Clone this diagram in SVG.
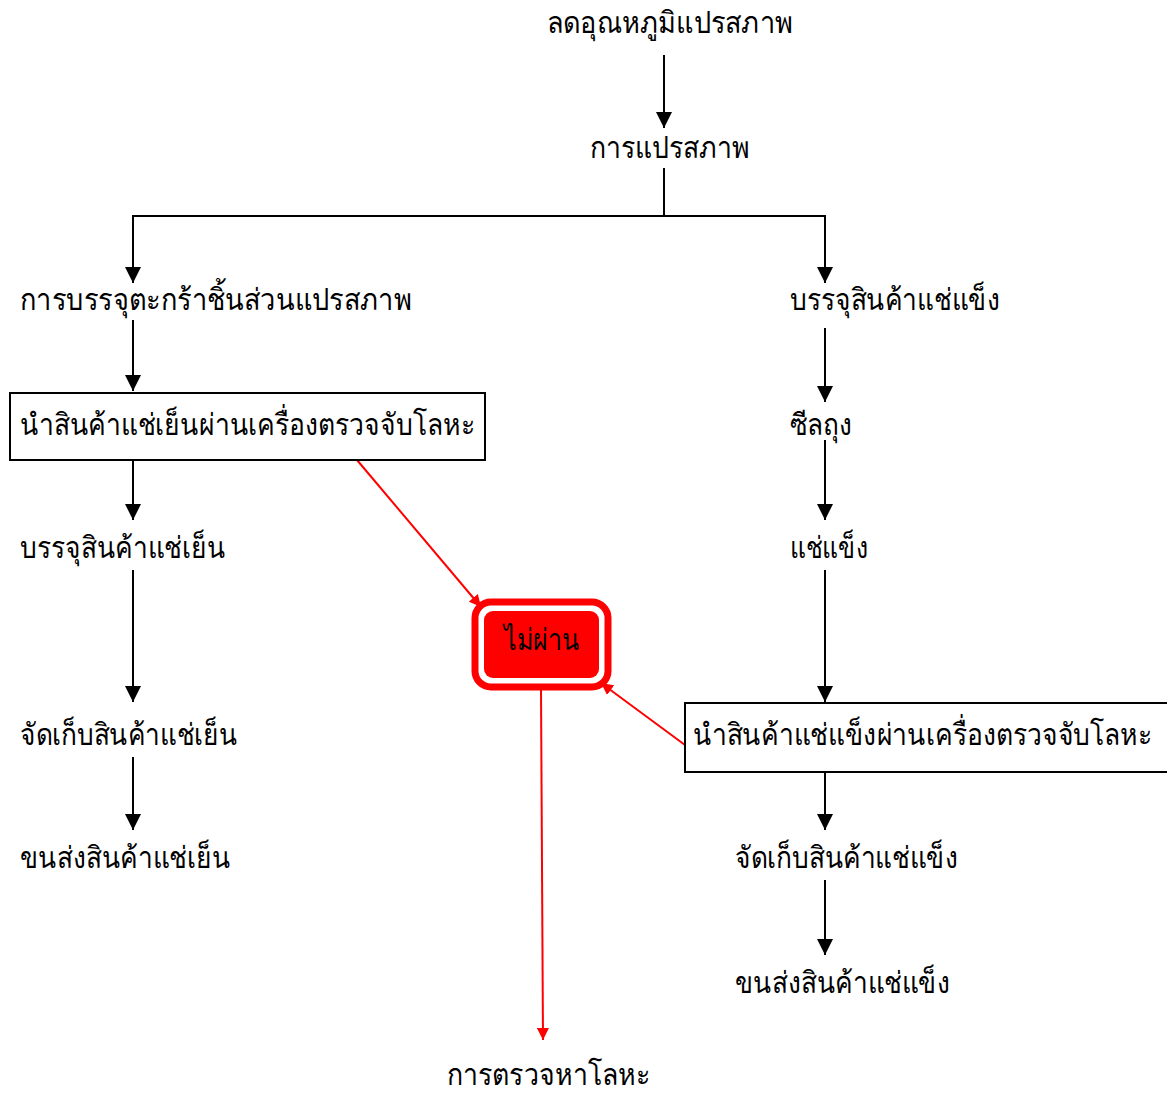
<svg xmlns="http://www.w3.org/2000/svg" width="1167" height="1095" viewBox="0 0 1167 1095">
<style>
text{font-family:"Liberation Serif","Noto Sans",serif;font-size:30px;fill:#000}
.k{stroke:#000;stroke-width:2;fill:none}
.r{stroke:#f00;stroke-width:2;fill:none}
.box{fill:#fff;stroke:#000;stroke-width:2}
</style>
<defs>
<marker id="ar" markerWidth="12" markerHeight="12" refX="12" refY="6" orient="auto" markerUnits="userSpaceOnUse" viewBox="0 0 12 12"><path d="M0,0L12,6L0,12z" fill="#f00"/></marker>
<marker id="akb" markerWidth="16" markerHeight="16" refX="16" refY="8" orient="auto" markerUnits="userSpaceOnUse" viewBox="0 0 16 16"><path d="M0,0L16,8L0,16z" fill="#000"/></marker>
</defs>
<g id="connectors">
<path class="k" d="M664,55V128" marker-end="url(#akb)"/>
<path class="k" d="M664,168V216H133V283" marker-end="url(#akb)"/>
<path class="k" d="M664,216H825V283" marker-end="url(#akb)"/>
<path class="k" d="M133,320V391" marker-end="url(#akb)"/>
<path class="k" d="M133,460V520" marker-end="url(#akb)"/>
<path class="k" d="M133,570V702" marker-end="url(#akb)"/>
<path class="k" d="M133,757V830" marker-end="url(#akb)"/>
<path class="k" d="M825,328V402" marker-end="url(#akb)"/>
<path class="k" d="M825,440V520" marker-end="url(#akb)"/>
<path class="k" d="M825,570V702" marker-end="url(#akb)"/>
<path class="k" d="M825,772V830" marker-end="url(#akb)"/>
<path class="k" d="M825,880V955" marker-end="url(#akb)"/>
<path class="r" d="M357,460L481,607" marker-end="url(#ar)"/>
<path class="r" d="M685,745L601,683" marker-end="url(#ar)"/>
<path class="r" d="M541,690L543,1040" marker-end="url(#ar)"/>
</g>
<g id="n1"><text x="547" y="33" textLength="246" lengthAdjust="spacingAndGlyphs">ลดอุณหภูมิแปรสภาพ</text></g>
<g id="n2"><text x="590" y="158" textLength="160" lengthAdjust="spacingAndGlyphs">การแปรสภาพ</text></g>
<g id="n3"><text x="20" y="310" textLength="392" lengthAdjust="spacingAndGlyphs">การบรรจุตะกร้าชิ้นส่วนแปรสภาพ</text></g>
<g id="n4"><rect class="box" x="10" y="393" width="475" height="67"/><text x="20" y="435" textLength="455" lengthAdjust="spacingAndGlyphs">นำสินค้าแช่เย็นผ่านเครื่องตรวจจับโลหะ</text></g>
<g id="n5"><text x="20" y="558" textLength="205" lengthAdjust="spacingAndGlyphs">บรรจุสินค้าแช่เย็น</text></g>
<g id="n6"><text x="20" y="745" textLength="217" lengthAdjust="spacingAndGlyphs">จัดเก็บสินค้าแช่เย็น</text></g>
<g id="n7"><text x="20" y="868" textLength="210" lengthAdjust="spacingAndGlyphs">ขนส่งสินค้าแช่เย็น</text></g>
<g id="n8"><text x="790" y="310" textLength="210" lengthAdjust="spacingAndGlyphs">บรรจุสินค้าแช่แข็ง</text></g>
<g id="n9"><text x="790" y="435" textLength="62" lengthAdjust="spacingAndGlyphs">ซีลถุง</text></g>
<g id="n10"><text x="790" y="558" textLength="78" lengthAdjust="spacingAndGlyphs">แช่แข็ง</text></g>
<g id="n11"><rect class="box" x="685" y="703" width="490" height="69"/><text x="693" y="745" textLength="459" lengthAdjust="spacingAndGlyphs">นำสินค้าแช่แข็งผ่านเครื่องตรวจจับโลหะ</text></g>
<g id="n12"><text x="735" y="868" textLength="223" lengthAdjust="spacingAndGlyphs">จัดเก็บสินค้าแช่แข็ง</text></g>
<g id="n13"><text x="735" y="993" textLength="215" lengthAdjust="spacingAndGlyphs">ขนส่งสินค้าแช่แข็ง</text></g>
<g id="n14"><rect x="475" y="602" width="133" height="85" rx="16" fill="none" stroke="#f00" stroke-width="7"/><rect x="484" y="611" width="115" height="67" rx="9" fill="#f00"/><text x="504" y="650" textLength="76" lengthAdjust="spacingAndGlyphs">ไม่ผ่าน</text></g>
<g id="n15"><text x="447" y="1085" textLength="203" lengthAdjust="spacingAndGlyphs">การตรวจหาโลหะ</text></g>
</svg>
